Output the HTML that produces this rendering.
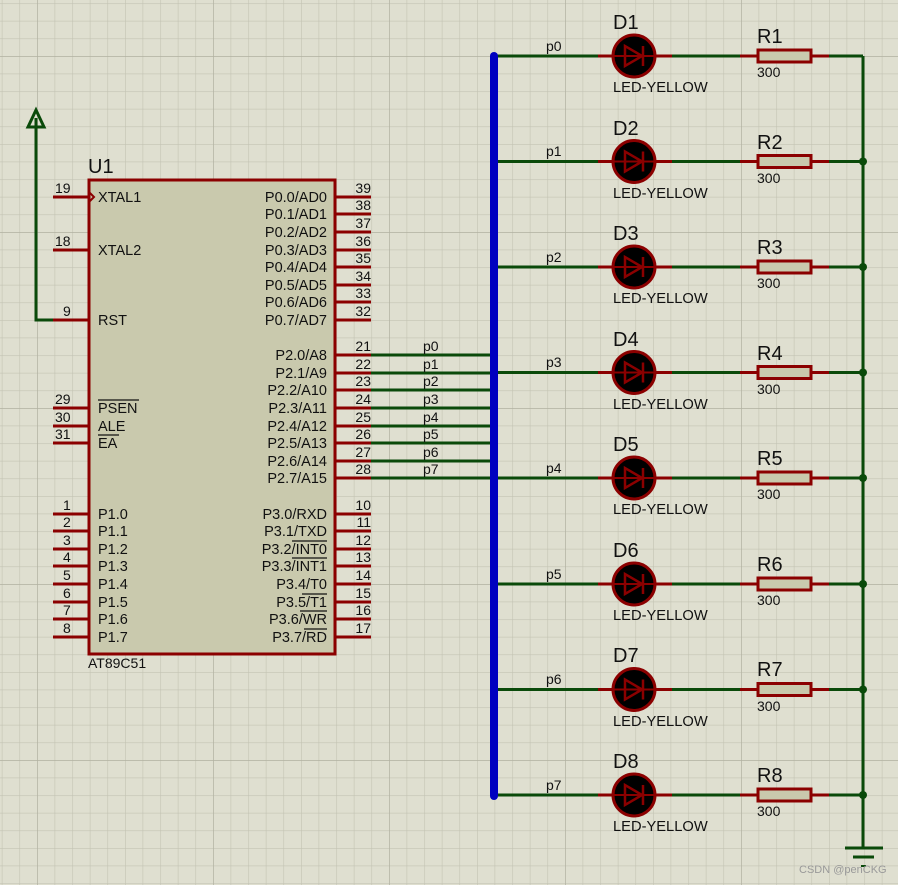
<!DOCTYPE html>
<html><head><meta charset="utf-8"><style>
html,body{margin:0;padding:0;background:#dfdfd0;}
svg{display:block;font-family:"Liberation Sans",Arial,sans-serif;}
</style></head><body>
<svg width="898" height="885" viewBox="0 0 898 885" xmlns="http://www.w3.org/2000/svg">
<defs>
<pattern id="minor" x="1.8" y="3.2" width="17.6" height="17.6" patternUnits="userSpaceOnUse">
<path d="M0 0H17.6M0 0V17.6" stroke="#c3c3b3" stroke-width="1.2" fill="none"/>
</pattern>
<pattern id="major" x="37" y="56" width="176" height="176" patternUnits="userSpaceOnUse">
<path d="M0 0H176M0 0V176" stroke="#b2b2a2" stroke-width="1.4" fill="none"/>
</pattern>
<g id="led">
<line x1="494" y1="0" x2="598" y2="0" stroke="#0a4a0a" stroke-width="3"/>
<line x1="598" y1="0" x2="614" y2="0" stroke="#8b0000" stroke-width="3"/>
<circle cx="634" cy="0" r="21" fill="#000" stroke="#8b0000" stroke-width="3"/>
<line x1="614" y1="0" x2="654" y2="0" stroke="#8b0000" stroke-width="2"/>
<polygon points="625,-10 625,10 642,0" fill="none" stroke="#8b0000" stroke-width="2.5"/>
<line x1="643" y1="-10" x2="643" y2="10" stroke="#8b0000" stroke-width="2.5"/>
<line x1="655" y1="0" x2="672" y2="0" stroke="#8b0000" stroke-width="3"/>
<line x1="672" y1="0" x2="740" y2="0" stroke="#0a4a0a" stroke-width="3"/>
<line x1="740" y1="0" x2="758" y2="0" stroke="#8b0000" stroke-width="3"/>
<rect x="758" y="-6" width="53" height="12" fill="#c9c9ad" stroke="#8b0000" stroke-width="3"/>
<line x1="811" y1="0" x2="829" y2="0" stroke="#8b0000" stroke-width="3"/>
<line x1="829" y1="0" x2="863" y2="0" stroke="#0a4a0a" stroke-width="3"/>
</g>
</defs>
<rect width="898" height="885" fill="#dfdfd0"/>
<rect width="898" height="885" fill="url(#minor)"/>
<rect width="898" height="885" fill="url(#major)"/>

<polyline points="53,320 36,320 36,118" fill="none" stroke="#0a4a0a" stroke-width="3"/>
<polygon points="36,110 28,127 44,127" fill="none" stroke="#0a4a0a" stroke-width="3"/>

<rect x="89" y="180" width="246" height="474" fill="#c9c9ad" stroke="#8b0000" stroke-width="3"/>
<text x="88" y="173" font-size="20" fill="#111">U1</text>
<text x="88" y="668" font-size="14" fill="#111">AT89C51</text>
<g stroke="#8b0000" stroke-width="3">
<line x1="53" y1="197" x2="89" y2="197"/><line x1="53" y1="250" x2="89" y2="250"/><line x1="53" y1="320" x2="89" y2="320"/>
<line x1="53" y1="408" x2="89" y2="408"/><line x1="53" y1="426" x2="89" y2="426"/><line x1="53" y1="443" x2="89" y2="443"/>
<line x1="53" y1="514" x2="89" y2="514"/><line x1="53" y1="531" x2="89" y2="531"/><line x1="53" y1="549" x2="89" y2="549"/><line x1="53" y1="566" x2="89" y2="566"/>
<line x1="53" y1="584" x2="89" y2="584"/><line x1="53" y1="602" x2="89" y2="602"/><line x1="53" y1="619" x2="89" y2="619"/><line x1="53" y1="637" x2="89" y2="637"/>
<line x1="335" y1="197" x2="371" y2="197"/><line x1="335" y1="214" x2="371" y2="214"/><line x1="335" y1="232" x2="371" y2="232"/><line x1="335" y1="250" x2="371" y2="250"/>
<line x1="335" y1="267" x2="371" y2="267"/><line x1="335" y1="285" x2="371" y2="285"/><line x1="335" y1="302" x2="371" y2="302"/><line x1="335" y1="320" x2="371" y2="320"/>
<line x1="335" y1="355" x2="371" y2="355"/><line x1="335" y1="373" x2="371" y2="373"/><line x1="335" y1="390" x2="371" y2="390"/><line x1="335" y1="408" x2="371" y2="408"/>
<line x1="335" y1="426" x2="371" y2="426"/><line x1="335" y1="443" x2="371" y2="443"/><line x1="335" y1="461" x2="371" y2="461"/><line x1="335" y1="478" x2="371" y2="478"/>
<line x1="335" y1="514" x2="371" y2="514"/><line x1="335" y1="531" x2="371" y2="531"/><line x1="335" y1="549" x2="371" y2="549"/><line x1="335" y1="566" x2="371" y2="566"/>
<line x1="335" y1="584" x2="371" y2="584"/><line x1="335" y1="602" x2="371" y2="602"/><line x1="335" y1="619" x2="371" y2="619"/><line x1="335" y1="637" x2="371" y2="637"/>
</g>
<polyline points="89,192 94,197 89,202" fill="none" stroke="#8b0000" stroke-width="2"/>
<g font-size="14" fill="#111">
<text x="55" y="193">19</text><text x="55" y="246">18</text><text x="63" y="316">9</text>
<text x="55" y="404">29</text><text x="55" y="422">30</text><text x="55" y="439">31</text>
<text x="63" y="510">1</text><text x="63" y="527">2</text><text x="63" y="545">3</text><text x="63" y="562">4</text>
<text x="63" y="580">5</text><text x="63" y="598">6</text><text x="63" y="615">7</text><text x="63" y="633">8</text>
<g text-anchor="end">
<text x="371" y="193">39</text><text x="371" y="210">38</text><text x="371" y="228">37</text><text x="371" y="246">36</text>
<text x="371" y="263">35</text><text x="371" y="281">34</text><text x="371" y="298">33</text><text x="371" y="316">32</text>
<text x="371" y="351">21</text><text x="371" y="369">22</text><text x="371" y="386">23</text><text x="371" y="404">24</text>
<text x="371" y="422">25</text><text x="371" y="439">26</text><text x="371" y="457">27</text><text x="371" y="474">28</text>
<text x="371" y="510">10</text><text x="371" y="527">11</text><text x="371" y="545">12</text><text x="371" y="562">13</text>
<text x="371" y="580">14</text><text x="371" y="598">15</text><text x="371" y="615">16</text><text x="371" y="633">17</text>
</g>
</g>
<g font-size="14.5" fill="#111">
<text x="98" y="202">XTAL1</text><text x="98" y="255">XTAL2</text><text x="98" y="325">RST</text>
<text x="98" y="413">PSEN</text><text x="98" y="431">ALE</text><text x="98" y="448">EA</text>
<text x="98" y="519">P1.0</text><text x="98" y="536">P1.1</text><text x="98" y="554">P1.2</text><text x="98" y="571">P1.3</text>
<text x="98" y="589">P1.4</text><text x="98" y="607">P1.5</text><text x="98" y="624">P1.6</text><text x="98" y="642">P1.7</text>
<g text-anchor="end">
<text x="327" y="202">P0.0/AD0</text><text x="327" y="219">P0.1/AD1</text><text x="327" y="237">P0.2/AD2</text><text x="327" y="255">P0.3/AD3</text>
<text x="327" y="272">P0.4/AD4</text><text x="327" y="290">P0.5/AD5</text><text x="327" y="307">P0.6/AD6</text><text x="327" y="325">P0.7/AD7</text>
<text x="327" y="360">P2.0/A8</text><text x="327" y="378">P2.1/A9</text><text x="327" y="395">P2.2/A10</text><text x="327" y="413">P2.3/A11</text>
<text x="327" y="431">P2.4/A12</text><text x="327" y="448">P2.5/A13</text><text x="327" y="466">P2.6/A14</text><text x="327" y="483">P2.7/A15</text>
<text x="327" y="519">P3.0/RXD</text><text x="327" y="536">P3.1/TXD</text><text x="327" y="554">P3.2/INT0</text><text x="327" y="571">P3.3/INT1</text>
<text x="327" y="589">P3.4/T0</text><text x="327" y="607">P3.5/T1</text><text x="327" y="624">P3.6/WR</text><text x="327" y="642">P3.7/RD</text>
</g>
</g>
<g stroke="#111" stroke-width="1.3">
<line x1="98" y1="400" x2="139" y2="400"/><line x1="98" y1="435" x2="119" y2="435"/>
<line x1="292" y1="541" x2="327" y2="541"/><line x1="292" y1="558" x2="327" y2="558"/>
<line x1="302" y1="594" x2="327" y2="594"/><line x1="300" y1="611" x2="327" y2="611"/><line x1="304" y1="629" x2="327" y2="629"/>
</g>

<g stroke="#0a4a0a" stroke-width="3">
<line x1="371" y1="355" x2="494" y2="355"/><line x1="371" y1="373" x2="494" y2="373"/><line x1="371" y1="390" x2="494" y2="390"/><line x1="371" y1="408" x2="494" y2="408"/>
<line x1="371" y1="426" x2="494" y2="426"/><line x1="371" y1="443" x2="494" y2="443"/><line x1="371" y1="461" x2="494" y2="461"/><line x1="371" y1="478" x2="494" y2="478"/>
</g>
<g font-size="14" fill="#111">
<text x="423" y="351">p0</text><text x="423" y="369">p1</text><text x="423" y="386">p2</text><text x="423" y="404">p3</text>
<text x="423" y="422">p4</text><text x="423" y="439">p5</text><text x="423" y="457">p6</text><text x="423" y="474">p7</text>
</g>

<use href="#led" y="56"/><use href="#led" y="161.5"/><use href="#led" y="267"/><use href="#led" y="372.5"/>
<use href="#led" y="478"/><use href="#led" y="584"/><use href="#led" y="689.5"/><use href="#led" y="795"/>

<line x1="494" y1="56" x2="494" y2="796" stroke="#0000c0" stroke-width="8" stroke-linecap="round"/>

<line x1="863" y1="56" x2="863" y2="848" stroke="#0a4a0a" stroke-width="3"/>
<line x1="845" y1="848" x2="883" y2="848" stroke="#0a4a0a" stroke-width="3"/>
<line x1="853" y1="857" x2="874" y2="857" stroke="#0a4a0a" stroke-width="3"/>
<line x1="861" y1="866" x2="866" y2="866" stroke="#0a4a0a" stroke-width="2"/>
<g fill="#0a4a0a">
<circle cx="863" cy="161.5" r="4"/><circle cx="863" cy="267" r="4"/><circle cx="863" cy="372.5" r="4"/><circle cx="863" cy="478" r="4"/>
<circle cx="863" cy="584" r="4"/><circle cx="863" cy="689.5" r="4"/><circle cx="863" cy="795" r="4"/>
</g>

<g fill="#111">
<g font-size="14">
<text x="546" y="51">p0</text><text x="546" y="156">p1</text><text x="546" y="262">p2</text><text x="546" y="367">p3</text>
<text x="546" y="473">p4</text><text x="546" y="579">p5</text><text x="546" y="684">p6</text><text x="546" y="790">p7</text>
<text x="757" y="77">300</text><text x="757" y="183">300</text><text x="757" y="288">300</text><text x="757" y="394">300</text>
<text x="757" y="499">300</text><text x="757" y="605">300</text><text x="757" y="711">300</text><text x="757" y="816">300</text>
</g>
<g font-size="14.7">
<text x="613" y="92">LED-YELLOW</text><text x="613" y="198">LED-YELLOW</text><text x="613" y="303">LED-YELLOW</text><text x="613" y="409">LED-YELLOW</text>
<text x="613" y="514">LED-YELLOW</text><text x="613" y="620">LED-YELLOW</text><text x="613" y="726">LED-YELLOW</text><text x="613" y="831">LED-YELLOW</text>
</g>
<g font-size="20">
<text x="613" y="29">D1</text><text x="613" y="135">D2</text><text x="613" y="240">D3</text><text x="613" y="346">D4</text>
<text x="613" y="451">D5</text><text x="613" y="557">D6</text><text x="613" y="662">D7</text><text x="613" y="768">D8</text>
<text x="757" y="43">R1</text><text x="757" y="149">R2</text><text x="757" y="254">R3</text><text x="757" y="360">R4</text>
<text x="757" y="465">R5</text><text x="757" y="571">R6</text><text x="757" y="676">R7</text><text x="757" y="782">R8</text>
</g>
</g>
<text x="799" y="873" font-size="11" fill="#999">CSDN @penCKG</text>
</svg>
</body></html>
